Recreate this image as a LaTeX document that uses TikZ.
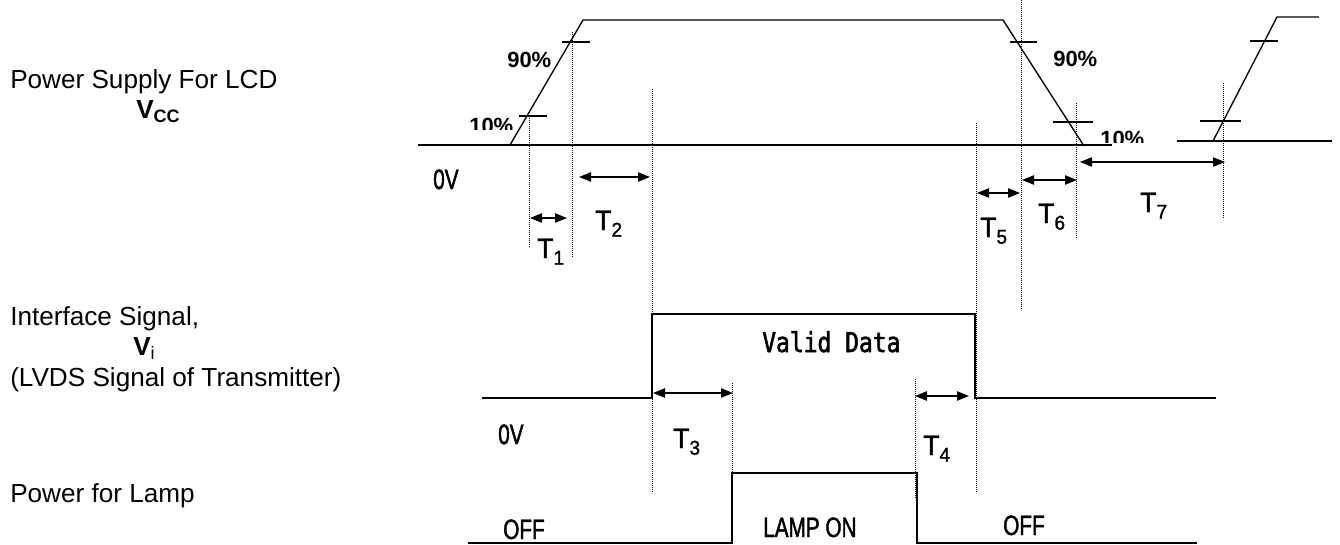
\documentclass[tikz,border=0pt]{standalone}
\usepackage{fontspec}
\setmainfont{Liberation Sans}
\newfontfamily\gfont[FakeStretch=0.84,FakeBold=2]{DejaVu Sans Mono}
\newfontfamily\nfont[FakeStretch=0.74,FakeBold=1.5]{Liberation Sans}
\newfontfamily\tfont[FakeStretch=0.95,FakeBold=1.5]{Liberation Sans}
\usetikzlibrary{arrows.meta}
\tikzset{
  wave/.style={line width=1pt, line join=miter},
  tick/.style={line width=0.9pt},
  guide/.style={line width=0.6pt, dash pattern=on 0.6pt off 0.9pt},
  span/.style={line width=0.9pt, {Triangle[length=9pt,width=7pt]}-{Triangle[length=9pt,width=7pt]}},
  tlabel/.style={inner sep=0pt, anchor=base west, font=\tfont\fontsize{21pt}{22pt}\selectfont},
  glabel/.style={inner sep=0pt, anchor=base west, font=\nfont\fontsize{21pt}{22pt}\selectfont},
  plabel/.style={inner sep=0pt, anchor=base west, font=\bfseries\fontsize{16.5pt}{17pt}\selectfont},
  llabel/.style={inner sep=0pt, anchor=base west, font=\fontsize{19.6pt}{21pt}\selectfont},
}
\newcommand{\Tsub}[1]{T\raisebox{-5pt}{\fontsize{15pt}{16pt}\selectfont #1}}
\begin{document}
\begin{tikzpicture}[x=0.75pt,y=-0.75pt]
\useasboundingbox (0,0) rectangle (1340,544);
% left labels
\node[llabel] (lcd) at (10,88) {Power Supply For LCD};
\node[llabel] (vcc) at (136,118) {\textbf{V}\raisebox{-3pt}{\fontsize{13.5pt}{14pt}\selectfont\textbf{CC}}};
\node[llabel] (ifs) at (10,325) {Interface Signal,};
\node[llabel] (vi) at (133,355) {\textbf{V}\raisebox{-3pt}{\fontsize{13.5pt}{14pt}\selectfont i}};
\node[llabel] (lvds) at (10,386) {(LVDS Signal of Transmitter)};
\node[llabel] (lamp) at (10,502) {Power for Lamp};

% Vcc waveform
\draw[wave] (418,145) -- (1112,145);
\draw[wave] (510,145) -- (583,20) -- (1003,20) -- (1084,146);
\draw[tick] (562,42) -- (590,42);
\draw[tick] (519,116) -- (547,116);
\draw[tick] (1010,42) -- (1037,42);
\draw[tick] (1053,122) -- (1093,122);
% second pulse
\draw[wave] (1177,141) -- (1332,141);
\draw[wave] (1213,141) -- (1277,17) -- (1319,17);
\draw[tick] (1250,41) -- (1278,41);
\draw[tick] (1200,121) -- (1241,121);

% percentage labels
\node[plabel] (p90a) at (507,67) {90\%};
\node[plabel] (p90b) at (1053,66) {90\%};
\begin{scope}
\clip (460,100) rectangle (515,129);
\node[plabel] (p10a) at (469,133) {10\%};
\end{scope}
\begin{scope}
\clip (1095,120) rectangle (1145,142);
\node[plabel] (p10b) at (1100,146) {10\%};
\end{scope}

% Interface waveform
\draw[wave] (482,398) -- (652,398) -- (652,314) -- (975,314) -- (975,398) -- (1216,398);
% Lamp waveform
\draw[wave] (468,543) -- (732,543) -- (732,473) -- (917,473) -- (917,543) -- (1197,543);

% guide lines
\draw[guide] (529,116) -- (529,247);
\draw[guide] (572,32) -- (572,257);
\draw[guide] (652,89) -- (652,493);
\draw[guide] (732,383) -- (732,473);
\draw[guide] (915,379) -- (915,498);
\draw[guide] (976,123) -- (976,493);
\draw[guide] (1021,0) -- (1021,310);
\draw[guide] (1076,103) -- (1076,239);
\draw[guide] (1223,83) -- (1223,219);

% spans
\draw[span] (530,218) -- (567,218);
\draw[span] (579,177) -- (650,177);
\draw[span] (653,393) -- (733,393);
\draw[span] (915,396) -- (969,396);
\draw[span] (977,193) -- (1020,193);
\draw[span] (1022,180) -- (1077,180);
\draw[span] (1080,162) -- (1225,162);

% T labels
\node[tlabel] (t1) at (537,258) {\Tsub{1}};
\node[tlabel] (t2) at (595,230) {\Tsub{2}};
\node[tlabel] (t3) at (673,448) {\Tsub{3}};
\node[tlabel] (t4) at (923,455) {\Tsub{4}};
\node[tlabel] (t5) at (980,237) {\Tsub{5}};
\node[tlabel] (t6) at (1038,223) {\Tsub{6}};
\node[tlabel] (t7) at (1140,212) {\Tsub{7}};

% other gothic labels
\node[glabel] (ov1) at (433,189) {0V};
\node[glabel] (ov2) at (498,444) {0V};
\node[glabel, font=\gfont\fontsize{20.5pt}{22pt}\selectfont] (valid) at (762,352) {Valid Data};
\node[glabel] (off1) at (503,539) {OFF};
\node[glabel] (lampon) at (763,537) {LAMP ON};
\node[glabel] (off2) at (1003,535) {OFF};
\end{tikzpicture}
\end{document}
